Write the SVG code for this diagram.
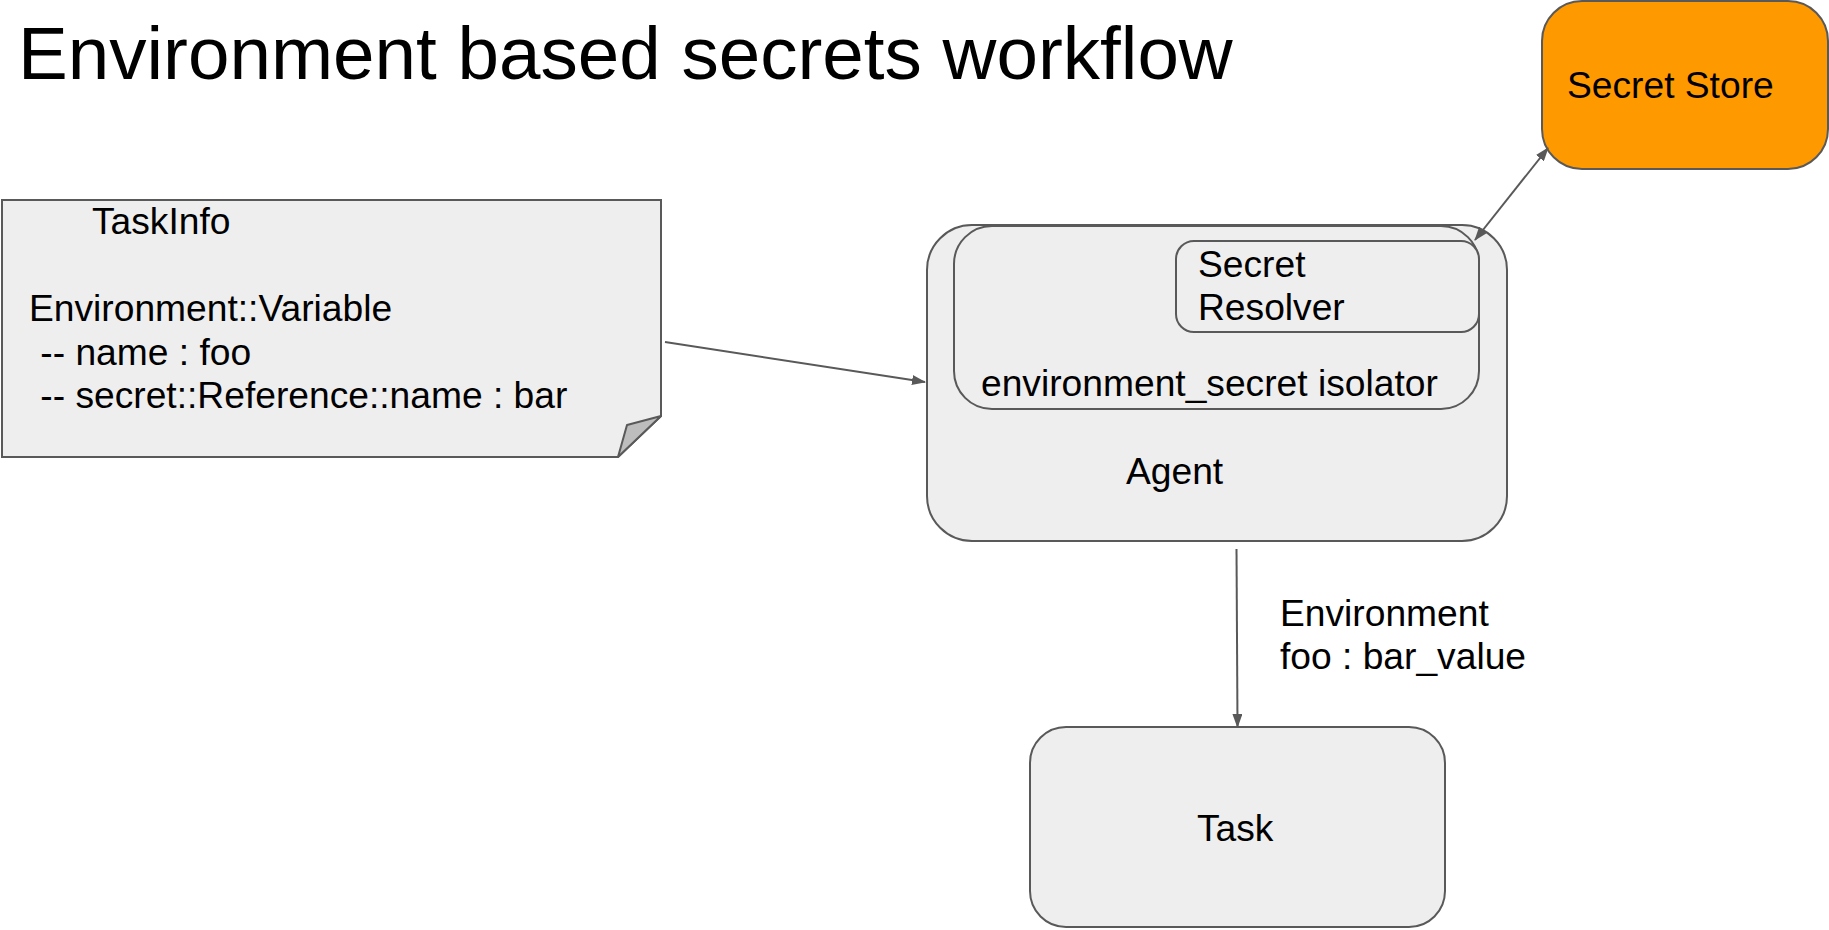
<svg xmlns="http://www.w3.org/2000/svg" width="1829" height="930" viewBox="0 0 1829 930">
  <defs>
    <style>
      text { font-family: "Liberation Sans", Arial, sans-serif; fill: #000000; }
      .title { font-size: 74.6px; }
      .label { font-size: 37.2px; }
      .box { fill: #eeeeee; stroke: #595959; stroke-width: 2; }
      .store { fill: #ff9900; stroke: #595959; stroke-width: 2; }
      .edge { fill: none; stroke: #595959; stroke-width: 2; }
    </style>
    <marker id="arrow-end" markerWidth="14" markerHeight="10" refX="13" refY="5" orient="auto" markerUnits="userSpaceOnUse">
      <path d="M0,0 L14,5 L0,10 Z" fill="#595959"/>
    </marker>
    <marker id="arrow-start" markerWidth="14" markerHeight="10" refX="1" refY="5" orient="auto" markerUnits="userSpaceOnUse">
      <path d="M14,0 L0,5 L14,10 Z" fill="#595959"/>
    </marker>
  </defs>

  <rect width="1829" height="930" fill="#ffffff"/>

  <text class="title" x="18" y="79">Environment based secrets workflow</text>

  <!-- TaskInfo note with folded corner -->
  <g id="taskinfo">
    <path class="box" d="M2,200 L661,200 L661,416 L618,457 L2,457 Z"/>
    <path d="M618,457 L627,425 L661,416 Z" fill="#bdbdbd" stroke="#595959" stroke-width="2" stroke-linejoin="round"/>
    <text class="label" x="92" y="234">TaskInfo</text>
    <text class="label" x="29" y="321">Environment::Variable</text>
    <text class="label" x="30" y="365" xml:space="preserve"> -- name : foo</text>
    <text class="label" x="30" y="408" xml:space="preserve"> -- secret::Reference::name : bar</text>
  </g>

  <!-- Agent with nested isolator and resolver -->
  <g id="agent">
    <rect class="box" x="927" y="225" width="580" height="316" rx="45" ry="45"/>
    <text class="label" x="1126" y="484">Agent</text>
  </g>
  <g id="isolator">
    <rect class="box" x="954" y="226" width="525" height="183" rx="38" ry="38"/>
    <text class="label" x="981" y="396">environment_secret isolator</text>
  </g>
  <g id="resolver">
    <rect class="box" x="1176" y="241" width="303" height="91" rx="18" ry="18"/>
    <text class="label" x="1198" y="277">Secret</text>
    <text class="label" x="1198" y="320">Resolver</text>
  </g>

  <g id="secret-store">
    <rect class="store" x="1542" y="1" width="286" height="168" rx="40" ry="40"/>
    <text class="label" x="1567" y="98">Secret Store</text>
  </g>

  <g id="task">
    <rect class="box" x="1030" y="727" width="415" height="200" rx="36" ry="36"/>
    <text class="label" x="1197" y="841">Task</text>
  </g>

  <!-- connectors -->
  <g id="connectors">
    <line class="edge" x1="665" y1="342" x2="925" y2="382" marker-end="url(#arrow-end)"/>
    <line class="edge" x1="1475" y1="240" x2="1548" y2="148" marker-start="url(#arrow-start)" marker-end="url(#arrow-end)"/>
    <line class="edge" x1="1236.5" y1="549" x2="1237.5" y2="727" marker-end="url(#arrow-end)"/>
    <text class="label" x="1280" y="626">Environment</text>
    <text class="label" x="1280" y="669">foo : bar_value</text>
  </g>
</svg>
